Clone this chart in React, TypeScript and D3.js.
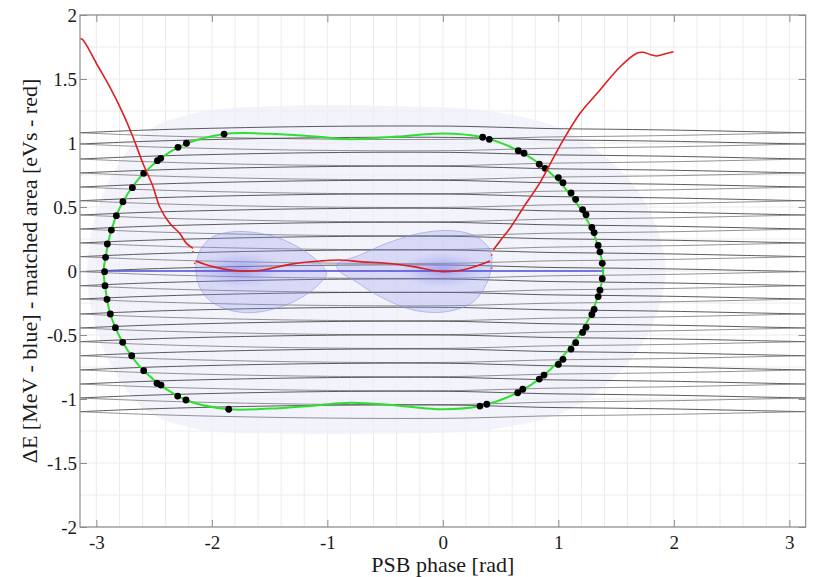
import { useRef, useEffect } from "react";
import * as d3 from "d3";

const phaseTicks = [-3, -2, -1, 0, 1, 2, 3];
const energyTicks = [-2, -1.5, -1, -0.5, 0, 0.5, 1, 1.5, 2];

// trajectory levels (MeV) where each crossing pair meets at +-pi
const trajLevels = [1.08, 0.992, 0.875, 0.766, 0.656, 0.549, 0.4375, 0.328, 0.219, 0.112, -0.005,
  -0.115, -0.219, -0.336, -0.445, -0.552, -0.662, -0.773, -0.883, -0.992, -1.099];
// half-gap of a pair along the phase axis
const trajPhase = [-Math.PI, -2.6, -2.0, -1.2, -0.4, 0.2, 0.85, 1.5, 2.06, 2.6, Math.PI];
const trajSpread = [0, 0.02, 0.035, 0.048, 0.053, 0.05, 0.034, 0.027, 0.02, 0.01, 0];

// green bucket boundary
const boundary = [
  [-2.937, 0], [-2.92, 0.107], [-2.87, 0.32], [-2.77, 0.541], [-2.59, 0.763], [-2.293, 0.966],
  [-1.894, 1.07], [-1.5, 1.072], [-1.1, 1.05], [-0.8, 1.03], [-0.4, 1.05], [0, 1.075],
  [0.345, 1.045], [0.653, 0.94], [0.885, 0.802], [1.1, 0.6], [1.26, 0.38], [1.35, 0.18], [1.388, 0],
  [1.35, -0.18], [1.26, -0.38], [1.1, -0.6], [0.876, -0.813], [0.648, -0.951], [0.321, -1.055],
  [0, -1.08], [-0.4, -1.05], [-0.8, -1.03], [-1.1, -1.05], [-1.5, -1.075], [-1.854, -1.08],
  [-2.224, -1.008], [-2.59, -0.779], [-2.772, -0.557], [-2.879, -0.336], [-2.925, -0.115],
];

// black markers on the boundary
const markers = [
  [-2.929, -0.005], [-2.92, 0.107], [-2.905, 0.211], [-2.87, 0.32], [-2.827, 0.432], [-2.77, 0.541],
  [-2.688, 0.651], [-2.59, 0.763], [-2.471, 0.862], [-2.443, 0.88], [-2.293, 0.966], [-2.22, 0.998],
  [-1.894, 1.07], [0.345, 1.045], [0.402, 1.029], [0.653, 0.94], [0.703, 0.92], [0.835, 0.834],
  [0.885, 0.802], [1.0, 0.73], [1.04, 0.69], [1.11, 0.61], [1.15, 0.56], [1.21, 0.48], [1.24, 0.44],
  [1.29, 0.34], [1.31, 0.3], [1.345, 0.2], [1.36, 0.15], [1.38, 0.06],
  [1.38, -0.06], [1.36, -0.15], [1.345, -0.2], [1.31, -0.3], [1.29, -0.34], [1.24, -0.44],
  [1.21, -0.48], [1.15, -0.56], [1.11, -0.61], [1.04, -0.69], [1.0, -0.73],
  [0.876, -0.813], [0.835, -0.844], [0.692, -0.924], [0.648, -0.951], [0.38, -1.041], [0.321, -1.055],
  [-1.854, -1.08], [-2.224, -1.008], [-2.296, -0.977], [-2.44, -0.891], [-2.475, -0.877],
  [-2.59, -0.779], [-2.694, -0.662], [-2.772, -0.557], [-2.835, -0.443], [-2.879, -0.336],
  [-2.908, -0.221], [-2.925, -0.115],
];

// matched area (eVs), three pieces
const areaLeft = [
  [-3.14, 1.815], [-3.12, 1.81], [-3.087, 1.766], [-3.0, 1.623], [-2.885, 1.44], [-2.77, 1.232],
  [-2.684, 1.049], [-2.597, 0.842], [-2.51, 0.66], [-2.452, 0.502], [-2.365, 0.373], [-2.279, 0.295],
  [-2.22, 0.216], [-2.163, 0.177],
];
const areaMid = [
  [-2.14, 0.078], [-1.99, 0.034], [-1.76, 0.0], [-1.556, 0.008], [-1.325, 0.052], [-1.065, 0.078],
  [-0.892, 0.086], [-0.718, 0.073], [-0.487, 0.06], [-0.256, 0.034], [0.003, -0.005], [0.206, 0.016],
  [0.408, 0.078],
];
const areaRight = [
  [0.437, 0.164], [0.5, 0.24], [0.581, 0.334], [0.7, 0.5], [0.841, 0.69], [1.015, 0.98],
  [1.188, 1.232], [1.361, 1.414], [1.535, 1.596], [1.679, 1.701], [1.737, 1.709], [1.8, 1.69],
  [1.853, 1.68], [1.92, 1.695], [1.997, 1.713],
];
const areaStray = [[-2.163, 0.151], [-2.148, 0.06], [0.423, 0.125], [0.423, 0.021]];

// beam distribution outlines
const halo = [
  [-3.08, 0], [-3.0, 0.45], [-2.8, 0.85], [-2.55, 1.1], [-2.1, 1.24], [-1.4, 1.29], [-0.5, 1.29],
  [0.4, 1.25], [1.05, 1.1], [1.5, 0.82], [1.8, 0.45], [1.93, 0], [1.8, -0.45], [1.5, -0.82],
  [1.05, -1.1], [0.4, -1.24], [-0.5, -1.27], [-1.4, -1.27], [-2.1, -1.24], [-2.55, -1.1],
  [-2.8, -0.85], [-3.0, -0.45],
];
const lobeLeft = [
  [-2.138, -0.005], [-2.1, 0.164], [-1.99, 0.268], [-1.816, 0.307], [-1.614, 0.299], [-1.412, 0.255],
  [-1.21, 0.164], [-1.065, 0.06], [-1.007, -0.018], [-1.065, -0.096], [-1.21, -0.2], [-1.44, -0.291],
  [-1.7, -0.326], [-1.93, -0.279], [-2.076, -0.174],
];
const lobeRight = [
  [-0.92, 0.047], [-0.718, 0.125], [-0.487, 0.216], [-0.198, 0.295], [0.09, 0.315], [0.293, 0.268],
  [0.408, 0.164], [0.423, 0.06], [0.38, -0.096], [0.264, -0.24], [0.033, -0.318], [-0.256, -0.305],
  [-0.545, -0.2], [-0.776, -0.07], [-0.892, -0.005],
];
const cores = [[-1.758, 0.008], [0, 0.008]];
const profile = [[-2.93, 0], [1.39, 0]];

const SERIF = "Liberation Serif, DejaVu Serif, serif";

function drawChart(svgRef) {
  const width = 817,
    height = 577;
  const left = 80, right = 805.7, top = 15, bottom = 527;

  const x = d3.scaleLinear().domain([-Math.PI, Math.PI]).range([left, right]);
  const y = d3.scaleLinear().domain([-2, 2]).range([bottom, top]);

  let svg = d3.select(svgRef.current);
  svg.selectAll("*").remove();
  svg.attr("viewBox", `0 0 ${width} ${height}`)
    .attr("width", width)
    .attr("height", height);

  const defs = svg.append("defs");
  defs.append("clipPath").attr("id", "plot").append("rect")
    .attr("x", left).attr("y", top).attr("width", right - left).attr("height", bottom - top);
  const grad = defs.append("radialGradient").attr("id", "core");
  grad.append("stop").attr("offset", "0%").attr("stop-color", "#6c6ee6").attr("stop-opacity", 0.5);
  grad.append("stop").attr("offset", "100%").attr("stop-color", "#8c8fe8").attr("stop-opacity", 0);

  svg.append("rect").attr("width", width).attr("height", height).attr("fill", "#fff");

  // grid
  const grid = svg.append("g").attr("stroke", "#ebebeb").attr("stroke-width", 1);
  grid.selectAll(".gx").data(d3.range(-15, 16).map(i => i * 0.2)).join("line")
    .attr("x1", d => x(d)).attr("x2", d => x(d)).attr("y1", top).attr("y2", bottom);
  grid.selectAll(".gy").data(d3.range(-8, 9).map(i => i * 0.25)).join("line")
    .attr("y1", d => y(d)).attr("y2", d => y(d)).attr("x1", left).attr("x2", right);

  const plot = svg.append("g").attr("clip-path", "url(#plot)");
  const closed = d3.line().x(d => x(d[0])).y(d => y(d[1])).curve(d3.curveCatmullRomClosed);
  const open = d3.line().x(d => x(d[0])).y(d => y(d[1])).curve(d3.curveCatmullRom);

  plot.append("path").attr("d", closed(halo)).attr("fill", "#eeeefb").attr("opacity", 0.7);

  // trajectories
  const traj = [];
  trajLevels.forEach(L => {
    [1, -1].forEach(s => traj.push({ s, pts: trajPhase.map((p, i) => [p, L + s * trajSpread[i]]) }));
  });
  plot.append("g").selectAll("path").data(traj).join("path")
    .attr("d", d => open(d.pts))
    .attr("fill", "none")
    .attr("stroke", d => (d.s > 0 ? "#333" : "#777"))
    .attr("stroke-width", 1)
    .attr("opacity", 0.8);

  // distribution lobes
  [lobeLeft, lobeRight].forEach(lobe => {
    plot.append("path").attr("d", closed(lobe))
      .attr("fill", "#9497ea").attr("fill-opacity", 0.28)
      .attr("stroke", "#8d90e4").attr("stroke-opacity", 0.55).attr("stroke-width", 1);
  });
  plot.selectAll(".core").data(cores).join("ellipse")
    .attr("cx", d => x(d[0])).attr("cy", d => y(d[1]))
    .attr("rx", 42).attr("ry", 18).attr("fill", "url(#core)");

  plot.append("path").attr("d", open(profile))
    .attr("fill", "none").attr("stroke", "#4b4dd6").attr("stroke-width", 1.5);

  plot.append("path").attr("d", closed(boundary))
    .attr("fill", "none").attr("stroke", "#2ee02e").attr("stroke-width", 2);

  plot.selectAll(".dot").data(markers).join("circle")
    .attr("cx", d => x(d[0])).attr("cy", d => y(d[1])).attr("r", 3.4).attr("fill", "#000");

  [areaLeft, areaMid, areaRight].forEach(seg => {
    plot.append("path").attr("d", open(seg))
      .attr("fill", "none").attr("stroke", "#e01e1e").attr("stroke-width", 1.6);
  });
  plot.selectAll(".stray").data(areaStray).join("circle")
    .attr("cx", d => x(d[0])).attr("cy", d => y(d[1])).attr("r", 1).attr("fill", "#e05050");

  // frame and axes
  svg.append("rect").attr("x", left).attr("y", top).attr("width", right - left).attr("height", bottom - top)
    .attr("fill", "none").attr("stroke", "#8c8c8c").attr("stroke-width", 1.2);

  const styleAxis = g => {
    g.attr("font-family", SERIF).attr("font-size", 19);
    g.select(".domain").remove();
    g.selectAll(".tick line").attr("stroke", "#8c8c8c");
    g.selectAll(".tick text").attr("fill", "#1a1a1a").attr("font-family", SERIF).attr("font-size", 19);
  };
  svg.append("g").attr("transform", `translate(0,${bottom})`)
    .call(d3.axisBottom(x).tickValues(phaseTicks).tickSize(-7).tickPadding(9).tickFormat(d => String(d)))
    .call(styleAxis);
  svg.append("g").attr("transform", `translate(0,${top})`)
    .call(d3.axisTop(x).tickValues(phaseTicks).tickSize(-7).tickFormat(() => ""))
    .call(styleAxis);
  svg.append("g").attr("transform", `translate(${left},0)`)
    .call(d3.axisLeft(y).tickValues(energyTicks).tickSize(-7).tickPadding(3).tickFormat(d => String(d)))
    .call(styleAxis);
  svg.append("g").attr("transform", `translate(${right},0)`)
    .call(d3.axisRight(y).tickValues(energyTicks).tickSize(-7).tickFormat(() => ""))
    .call(styleAxis);

  svg.append("text").attr("x", (left + right) / 2).attr("y", 572)
    .attr("text-anchor", "middle").attr("fill", "#1a1a1a")
    .attr("font-family", SERIF).attr("font-size", 22)
    .text("PSB phase [rad]");
  svg.append("text").attr("transform", `translate(37,${(top + bottom) / 2}) rotate(-90)`)
    .attr("text-anchor", "middle").attr("fill", "#1a1a1a")
    .attr("font-family", SERIF).attr("font-size", 22)
    .text("ΔE [MeV - blue] - matched area [eVs - red]");
}

export default function App() {
  const svg = useRef(null);
  useEffect(() => {
    drawChart(svg);
  }, [svg]);

  return <svg ref={svg} style={{ position: "absolute", left: 0, top: 0 }} />;
}
